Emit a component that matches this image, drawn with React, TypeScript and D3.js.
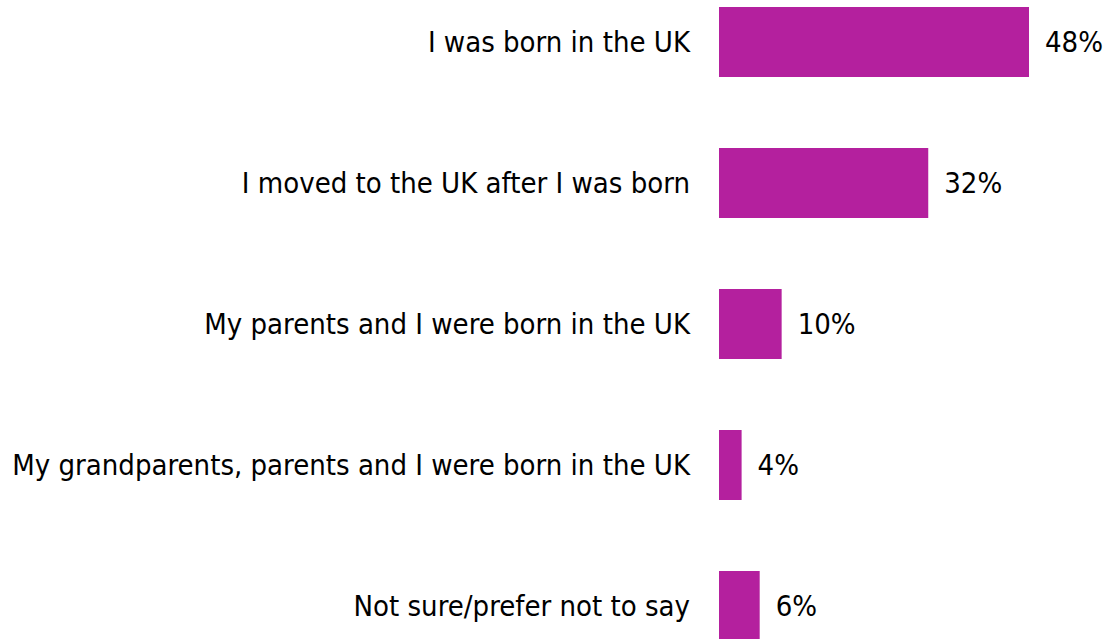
import React from "react";
import * as d3 from "d3";

const categories = [
  "I was born in the UK",
  "I moved to the UK after I was born",
  "My parents and I were born in the UK",
  "My grandparents, parents and I were born in the UK",
  "Not sure/prefer not to say",
];
const values = [48.0, 32.4, 9.7, 3.5, 6.3];

const W = 1109;
const H = 639;
const BAR_X = 719;
const COLOR = "#B4209E";
const FONT = "'DejaVu Sans Condensed', 'DejaVu Sans', sans-serif";
const FS = 29;

export default function App() {
  const x = d3.scaleLinear().domain([0, 48]).range([BAR_X, 1029]);
  const y = d3
    .scaleBand<string>()
    .domain(categories)
    .range([7, 641])
    .paddingInner(71 / 141)
    .paddingOuter(0);

  return (
    <svg
      width={W}
      height={H}
      style={{ position: "absolute", left: 0, top: 0, background: "#fff" }}
    >
      {categories.map((c, i) => {
        const yy = y(c)!;
        const cy = yy + y.bandwidth() / 2;
        return (
          <g key={c}>
            <rect
              x={x(0)}
              y={yy}
              width={x(values[i]) - x(0)}
              height={y.bandwidth()}
              fill={COLOR}
            />
            <text
              x={x(0) - 29}
              y={cy}
              dy="0.36em"
              textAnchor="end"
              fontFamily={FONT}
              fontSize={FS}
              fill="#000"
            >
              {c}
            </text>
            <text
              x={x(values[i]) + 16}
              y={cy}
              dy="0.36em"
              textAnchor="start"
              fontFamily={FONT}
              fontSize={FS}
              fill="#000"
            >
              {Math.round(values[i]) + "%"}
            </text>
          </g>
        );
      })}
    </svg>
  );
}
